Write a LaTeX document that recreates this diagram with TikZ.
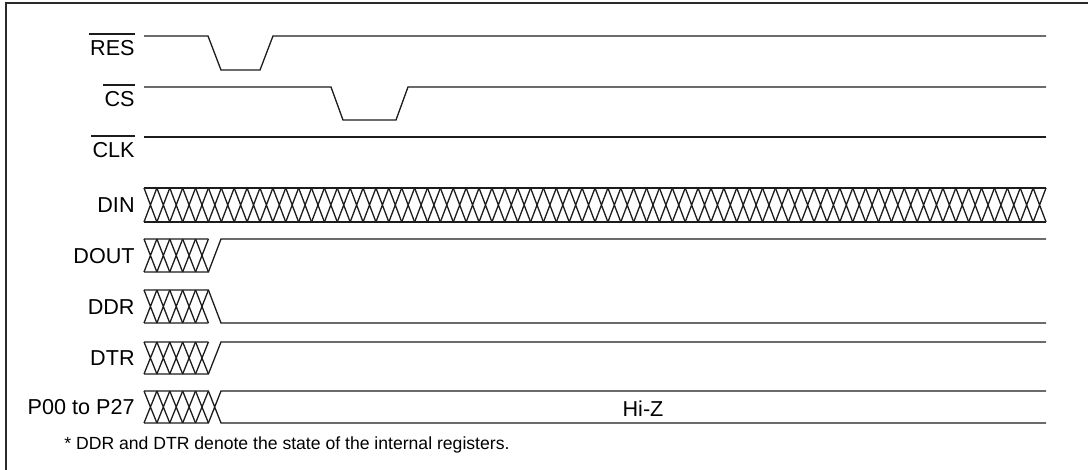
\documentclass[tikz,border=0pt]{standalone}
\usepackage{fontspec}
\setmainfont{Liberation Sans}
\usepackage{xcolor}
\usepackage{tikz}
\usetikzlibrary{positioning}
\definecolor{wavec}{HTML}{1C1C1C}
\definecolor{framec}{HTML}{2A2A2A}
\tikzset{
  wv/.style={line width=0.65pt,wavec},
  lbl/.style={anchor=base east,inner sep=0pt,font=\fontsize{10.8}{13}\selectfont},
  ovl/.style={line width=0.65pt,wavec,shorten <=-0.5pt}
}
\newcommand{\xcells}[4]{% start x, top y, bottom y, cells
  \foreach \i in {1,...,#4}{
    \draw[wv] ({#1+(\i-1)*12.886},#2) -- ({#1+\i*12.886},#3)
              ({#1+(\i-1)*12.886},#3) -- ({#1+\i*12.886},#2);}
}

\begin{document}
\begin{tikzpicture}[x=0.5pt,y=-0.5pt]
\useasboundingbox (0,0) rectangle (1088,470);
\draw[framec,line width=1pt] (6,470) -- (6,3) -- (1088,3);
\node[lbl] (res) at (135,56) {RES};
\node[lbl] (cs) at (135,107) {CS};
\node[lbl] (clk) at (135,158) {CLK};
\node[lbl] (din) at (135,213) {DIN};
\node[lbl] (dout) at (135,264) {DOUT};
\node[lbl] (ddr) at (135,315) {DDR};
\node[lbl] (dtr) at (135,366) {DTR};
\node[lbl] (port) at (135,415) {P00 to P27};
\foreach \n in {res,cs,clk}{\draw[ovl] ([yshift=3.3pt]\n.north west) -- ([yshift=3.3pt]\n.north east);}
\draw[wv] (144,36) -- (208,36) -- (221,70) -- (260,70) -- (273,36) -- (1046,36);
\draw[wv] (144,87) -- (331,87) -- (343,120) -- (396,120) -- (408,87) -- (1046,87);
\draw[wv] (144,137) -- (1046,137);
\draw[wv] (144,188) -- (1046,188) (144,222) -- (1046,222);
\xcells{144}{188}{222}{70}
\xcells{144}{239}{272}{5}
\draw[wv] (144,239) -- (208.4,239) (144,272) -- (208.4,272) -- (221,239) -- (1046,239);
\xcells{144}{290}{323}{5}
\draw[wv] (144,323) -- (208.4,323) (144,290) -- (208.4,290) -- (221,323) -- (1046,323);
\xcells{144}{342}{374}{5}
\draw[wv] (144,342) -- (208.4,342) (144,374) -- (208.4,374) -- (221,342) -- (1046,342);
\xcells{144}{391}{423}{5}
\draw[wv] (144,391) -- (208.4,391) -- (221,423) -- (1046,423)
          (144,423) -- (208.4,423) -- (221,391) -- (1046,391);
\node[anchor=base,inner sep=0pt,font=\fontsize{10.8}{13}\selectfont] (hiz) at (643,416) {Hi-Z};
\node[anchor=base west,inner sep=0pt,font=\fontsize{8.8}{11}\selectfont] (note) at (64,450) {* DDR and DTR denote the state of the internal registers.};
\end{tikzpicture}
\end{document}
